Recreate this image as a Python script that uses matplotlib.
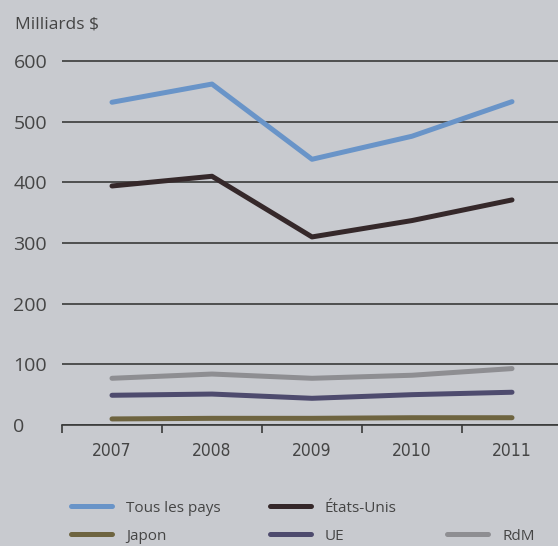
import matplotlib
matplotlib.use("Agg")
import matplotlib.pyplot as plt
from matplotlib.lines import Line2D

years = ["2007", "2008", "2009", "2010", "2011"]
tous_les_pays = [532, 562, 438, 476, 533]
etats_unis = [394, 410, 310, 337, 371]
japon = [10, 11, 11, 12, 12]
ue = [49, 51, 44, 50, 54]
rdm = [77, 84, 77, 82, 93]
y_ticks = [0, 100, 200, 300, 400, 500, 600]

series = [
    ("Tous les pays", tous_les_pays, "#6994c8"),
    ("États-Unis", etats_unis, "#35282a"),
    ("Japon", japon, "#6e6440"),
    ("UE", ue, "#4e4b6e"),
    ("RdM", rdm, "#8e8e92"),
]

BG = "#c8cacf"
GRID = "#3a3a3a"
TXT = "#454545"
FONT = ["Open Sans", "DejaVu Sans"]
plt.rcParams["font.family"] = FONT

W, H = 558, 546
fig = plt.figure(figsize=(W / 100, H / 100), dpi=100, facecolor=BG)
ax = fig.add_axes([62 / W, 121 / H, (W - 62) / W, (425 - 61) / H * 605 / 600])
ax.set_facecolor(BG)

x = list(range(len(years)))
for name, vals, col in series:
    ax.plot(x, vals, color=col, lw=3.6, solid_capstyle="round",
            solid_joinstyle="round", zorder=3)

ax.set_xlim(-0.5, -0.5 + (W - 62) / 100)
ax.set_ylim(0, 605)
ax.set_yticks(y_ticks)
ax.set_yticklabels([str(v) for v in y_ticks])
ax.yaxis.grid(True, color=GRID, lw=1.2)
ax.set_axisbelow(True)
ax.tick_params(axis="y", length=0, pad=35, labelsize=14, labelcolor=TXT)
for lbl in ax.get_yticklabels():
    lbl.set_horizontalalignment("left")

ax.set_xticks(x)
ax.set_xticklabels(years, family=["DejaVu Sans"], fontstretch="condensed")
ax.set_xticks([i - 0.5 for i in range(len(years))], minor=True)
ax.tick_params(axis="x", which="major", length=0, pad=12, labelsize=12.5,
               labelcolor=TXT)
ax.tick_params(axis="x", which="minor", length=6, width=1.2, color=GRID)

for s in ["top", "right", "left"]:
    ax.spines[s].set_visible(False)
ax.spines["bottom"].set_color(GRID)
ax.spines["bottom"].set_linewidth(1.2)

fig.text(15 / W, 1 - 25 / H, "Milliards $", fontsize=12.5, color=TXT,
         ha="left", va="center")

# legend entries: (series index, line start x px, row center y px)
leg_pos = [(0, 71, 508), (1, 270, 508), (2, 71, 536), (3, 270, 536), (4, 447, 536)]
for idx, xp, yp in leg_pos:
    name, vals, col = series[idx]
    h = Line2D([], [], color=col, lw=3.6, solid_capstyle="round")
    fig.legend([h], [name], loc="center left",
               bbox_to_anchor=(xp / W, 1 - yp / H), frameon=False,
               borderpad=0, borderaxespad=0, handlelength=2.7,
               handletextpad=0.9, fontsize=11, labelcolor=TXT)

fig.savefig("out.png", dpi=100, facecolor=BG)
